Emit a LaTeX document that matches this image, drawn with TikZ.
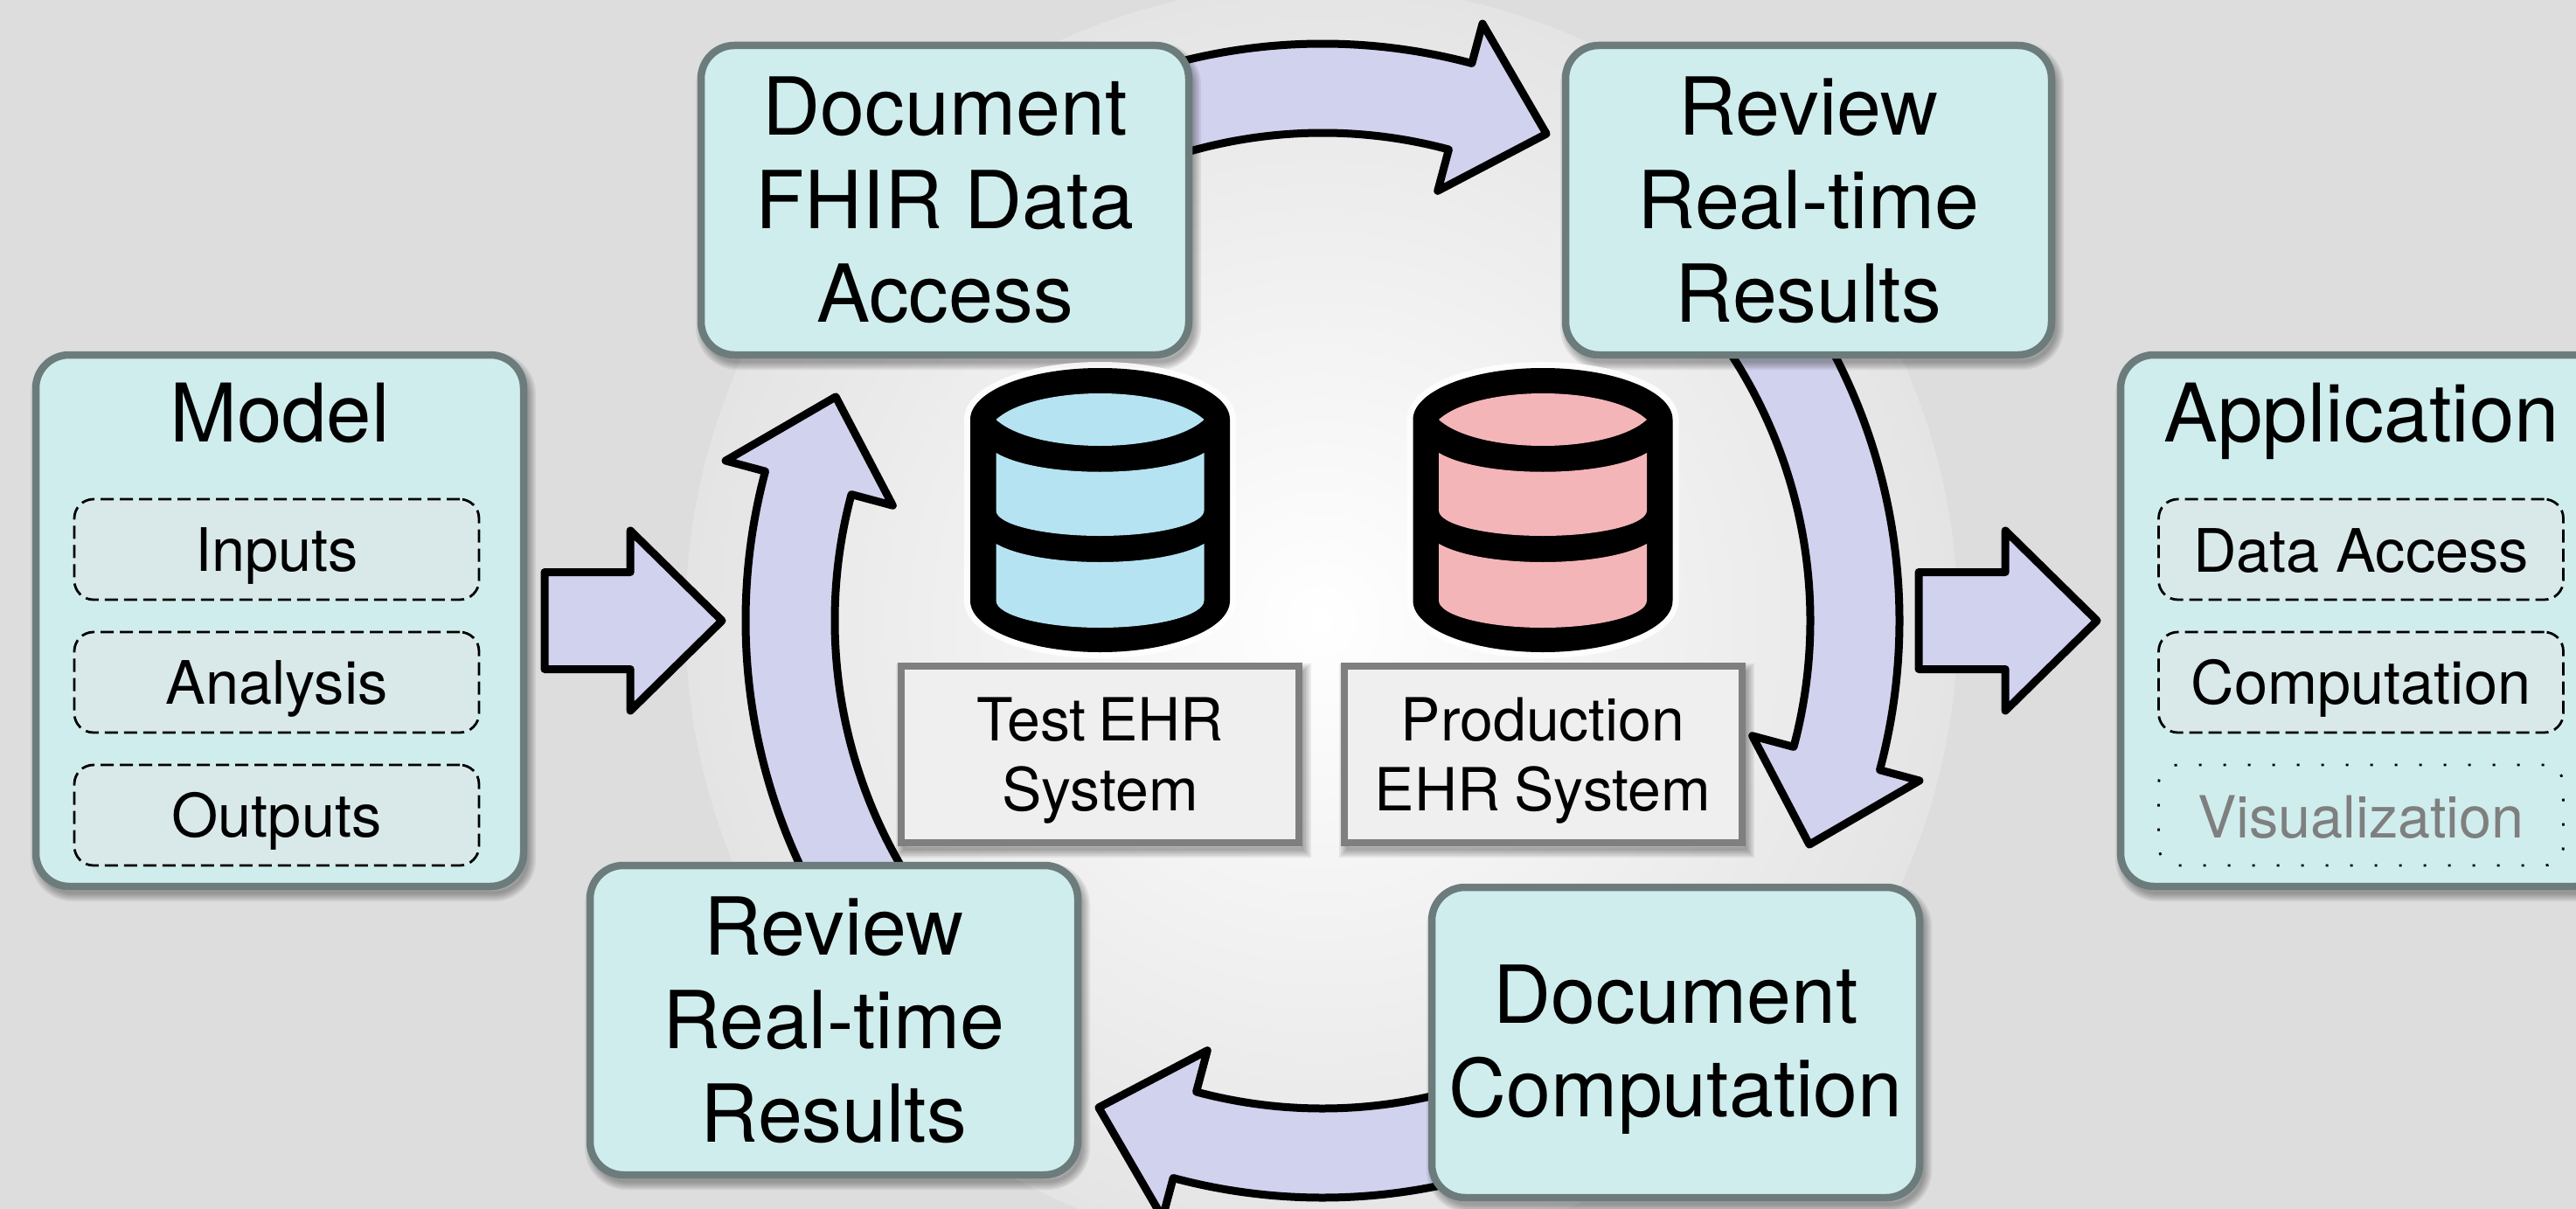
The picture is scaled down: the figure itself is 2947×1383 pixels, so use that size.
\documentclass[tikz,border=0pt]{standalone}
\usepackage{fontspec}
\setmainfont{TeX Gyre Heros}
\usetikzlibrary{shapes.arrows}
\definecolor{bgc}{HTML}{DDDDDD}
\definecolor{disc}{HTML}{E4E4E4}
\definecolor{boxf}{HTML}{D0EDED}
\definecolor{boxs}{HTML}{6C7C7C}
\definecolor{subf}{HTML}{D9E9E9}
\definecolor{arrf}{HTML}{D1D2EE}
\definecolor{dbblue}{HTML}{B5E3F2}
\definecolor{dbred}{HTML}{F4B5B8}
\definecolor{sysf}{HTML}{EFEFEF}
\definecolor{syss}{HTML}{7F7F7F}
\newcommand{\topst}[1]{\rule{0pt}{#1pt}}
\newcommand{\botst}[1]{\rule[-#1pt]{0pt}{#1pt}}
\tikzset{
  softshadow/.style={
    preaction={draw=black,fill=none,draw opacity=.07,line width=20pt,transform canvas={shift={(4pt,-7pt)}}},
    preaction={draw=black,fill=none,draw opacity=.07,line width=16pt,transform canvas={shift={(4pt,-7pt)}}},
    preaction={draw=black,fill=none,draw opacity=.07,line width=12pt,transform canvas={shift={(4pt,-7pt)}}},
    preaction={draw=black,fill=none,draw opacity=.07,line width=8pt,transform canvas={shift={(4pt,-7pt)}}},
    preaction={draw=black,fill=none,draw opacity=.07,line width=4pt,transform canvas={shift={(4pt,-7pt)}}}},
  stepbox/.style={draw=boxs,fill=boxf,line width=8.5pt,rounded corners=38pt,inner sep=0pt,outer sep=0pt,
    align=center,softshadow,font=\fontsize{91.5}{107}\selectfont},
  sysbox/.style={draw=syss,fill=sysf,line width=8pt,inner sep=0pt,outer sep=0pt,minimum width=455pt,minimum height=202pt,
    align=center,softshadow,font=\fontsize{68}{80}\selectfont},
  subbox/.style={draw=black,fill=subf,line width=2.8pt,dash pattern=on 15pt off 7pt,rounded corners=22pt,inner sep=0pt,outer sep=0pt,
    minimum width=463pt,minimum height=115pt,font=\fontsize{68.5}{80}\selectfont},
  subdot/.style={subbox,fill=none,dash pattern=on 3pt off 25pt,text=syss,font=\fontsize{66.5}{80}\selectfont},
  titletext/.style={inner sep=0pt,anchor=base,font=\fontsize{92.5}{107}\selectfont},
  flowarrow/.style={draw=black,fill=arrf,line width=9pt,line join=round},
  straightarrow/.style={flowarrow,shape=single arrow,inner xsep=0pt,inner ysep=51pt,outer sep=0pt,
    single arrow head extend=47.5pt,single arrow tip angle=89,single arrow head indent=0pt,anchor=tip}
}
\begin{document}
\begin{tikzpicture}[x=1pt,y=-1pt]
\useasboundingbox (0,0) rectangle (2947,1383);
\clip (0,0) rectangle (2947,1383);
\fill[bgc] (0,0) rectangle (2947,1383);
\shade[inner color=white,outer color=disc] (1512,710) circle [radius=728pt];

% circular block arrows
\foreach \r in {0,-90,-180,-270}{
\begin{scope}[shift={(1513,710)},rotate=\r]
  \draw[flowarrow] (130:660pt) arc[start angle=130,end angle=75,radius=660pt]
     -- (75:707pt) -- (65.3:613pt) -- (75:509pt) -- (75:558pt)
     arc[start angle=75,end angle=130,radius=558pt] -- cycle;
\end{scope}}

% straight block arrows
\node[straightarrow,minimum height=203pt] (inarrow) at (826,710) {};
\node[straightarrow,minimum height=204pt] (outarrow) at (2399,710) {};

% cycle steps
\node[stepbox,minimum width=558pt,minimum height=354pt] (docfhir) at (1081,229)
  {\topst{96}Document\\FHIR Data\\Access\botst{32}};
\node[stepbox,minimum width=556pt,minimum height=354pt] (reviewtop) at (2069,229)
  {\topst{96}Review\\Real-time\\Results\botst{32}};
\node[stepbox,minimum width=558pt,minimum height=354pt] (reviewbot) at (954,1167)
  {\topst{96}Review\\Real-time\\Results\botst{32}};
\node[stepbox,minimum width=558pt,minimum height=355pt] (doccomp) at (1917,1192.5)
  {\topst{94}Document\\Computation\botst{32}};

% model
\node[stepbox,minimum width=558pt,minimum height=608pt] (model) at (320,710) {};
\node[titletext] (modeltitle) at (320,505.5) {Model};
\node[subbox] (inputs) at (316.5,628.5) {\topst{65}Inputs\botst{13}};
\node[subbox] (analysis) at (316.5,780.5) {\topst{65}Analysis\botst{13}};
\node[subbox] (outputs) at (316.5,932.5) {\topst{65}Outputs\botst{13}};

% application
\node[stepbox,minimum width=558pt,minimum height=608pt] (app) at (2705,710) {};
\node[titletext] (apptitle) at (2702,505.5) {Application};
\node[subbox] (dataaccess) at (2701,628.5) {\topst{65}Data Access\botst{13}};
\node[subbox] (computation) at (2701,780.5) {\topst{65}Computation\botst{13}};
\node[subdot] (visual) at (2701,932.5) {\topst{65}Visualization\botst{13}};

% databases
\foreach \cx/\col in {1258.5/dbblue,1765/dbred}{
\begin{scope}[shift={(\cx,0)}]
  \draw[draw=white,draw opacity=.85,line width=14pt,fill=black]
    (-148.5,480) .. controls (-148.5,447.5) and (-82,421) .. (0,421)
    .. controls (82,421) and (148.5,447.5) .. (148.5,480) -- (148.5,687)
    .. controls (148.5,719.5) and (82,746) .. (0,746)
    .. controls (-82,746) and (-148.5,719.5) .. (-148.5,687) -- cycle;
  \fill[black]
    (-148.5,480) .. controls (-148.5,447.5) and (-82,421) .. (0,421)
    .. controls (82,421) and (148.5,447.5) .. (148.5,480) -- (148.5,687)
    .. controls (148.5,719.5) and (82,746) .. (0,746)
    .. controls (-82,746) and (-148.5,719.5) .. (-148.5,687) -- cycle;
  \fill[\col] (-119,480) .. controls (-75,440) and (75,440) .. (119,480)
    .. controls (75,520) and (-75,520) .. (-119,480) -- cycle;
  \fill[\col] (-119,518) .. controls (-70,547) and (70,547) .. (119,518) -- (119,584)
    .. controls (119,600) and (65,613) .. (0,613)
    .. controls (-65,613) and (-119,600) .. (-119,584) -- cycle;
  \fill[\col] (-119,622) .. controls (-70,650) and (70,650) .. (119,622) -- (119,687)
    .. controls (119,704) and (65,718) .. (0,718)
    .. controls (-65,718) and (-119,704) .. (-119,687) -- cycle;
\end{scope}}

% system labels
\node[sysbox] (testehr) at (1258.5,863) {\topst{73}Test\hspace{-5pt} EHR\\System\botst{24}};
\node[sysbox] (prodehr) at (1765,863) {\topst{73}Production\\EHR\hspace{-3pt} System\botst{24}};
\end{tikzpicture}
\end{document}
